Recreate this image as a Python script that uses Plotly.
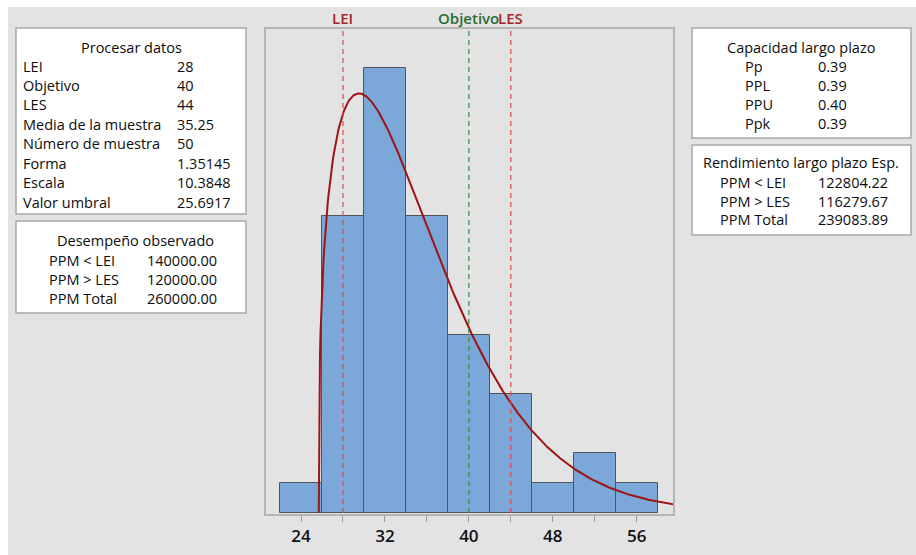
import numpy as np
import plotly.graph_objects as go

# Histogram bins (width 4) and observed counts
bin_edges = [22, 26, 30, 34, 38, 42, 46, 50, 54, 58]
counts = [1, 10, 15, 10, 6, 4, 1, 2, 1]

# Specification limits
lei, objetivo, les = 28, 40, 44

# Fitted 3-parameter Weibull
n_muestra = 50
forma, escala, umbral = 1.35145, 10.3848, 25.6917

tick_vals = [24, 32, 40, 48, 56]

proc_labels = ["LEI", "Objetivo", "LES", "Media de la muestra", "Número de muestra",
               "Forma", "Escala", "Valor umbral"]
proc_values = ["28", "40", "44", "35.25", "50", "1.35145", "10.3848", "25.6917"]

obs_labels = ["PPM < LEI", "PPM > LES", "PPM Total"]
obs_values = ["140000.00", "120000.00", "260000.00"]

cap_labels = ["Pp", "PPL", "PPU", "Ppk"]
cap_values = ["0.39", "0.39", "0.40", "0.39"]

esp_labels = ["PPM < LEI", "PPM > LES", "PPM Total"]
esp_values = ["122804.22", "116279.67", "239083.89"]

W, H = 916, 555
FONT = "Open Sans"
TXT = "#0d0d0d"
RED_TXT = "#a3262b"
GREEN_TXT = "#2d6b34"


def px(x):
    return x / W


def py(y):
    return 1 - y / H


centers = [(a + b) / 2 for a, b in zip(bin_edges[:-1], bin_edges[1:])]
widths = [b - a for a, b in zip(bin_edges[:-1], bin_edges[1:])]
bw = widths[0]

xs = np.linspace(umbral, 59.6, 600)
z = (xs - umbral) / escala
pdf = (forma / escala) * z ** (forma - 1) * np.exp(-z ** forma)
curve = pdf * n_muestra * bw

fig = go.Figure()
fig.add_trace(go.Bar(
    x=centers, y=counts, width=widths,
    marker=dict(color="#7ba7d9", line=dict(color="#50555c", width=1)),
    hoverinfo="skip",
))
fig.add_trace(go.Scatter(
    x=np.concatenate([[umbral], xs]), y=np.concatenate([[0], curve]),
    mode="lines", line=dict(color="#9e1414", width=2), hoverinfo="skip",
))

shapes = []
# grey canvas inside thin white strips at top and left
shapes.append(dict(type="rect", xref="paper", yref="paper", x0=px(8), x1=1, y0=0, y1=py(7),
                   fillcolor="#e3e3e3", line=dict(width=0), layer="below"))

# limit lines
for val, col in [(lei, "#e0484b"), (objetivo, "#2f8f3f"), (les, "#e0484b")]:
    shapes.append(dict(type="line", xref="x", yref="paper", x0=val, x1=val,
                       y0=py(513), y1=py(29), line=dict(color=col, width=1.2, dash="5px,4px"),
                       layer="above"))


def panel(x0, y0, x1, y1):
    shapes.append(dict(type="rect", xref="paper", yref="paper", x0=px(x0), x1=px(x1),
                       y0=py(y1), y1=py(y0), fillcolor="white",
                       line=dict(color="#a9a9a9", width=1.5), layer="below"))


panel(16, 28, 246, 214)
panel(16, 221, 246, 313)
panel(692, 28, 911, 138)
panel(692, 145, 911, 235)

ann = []


def text(s, x, y, anchor="left", size=14.5, color=TXT, weight=400):
    ann.append(dict(text=s, xref="paper", yref="paper",
                    x=px(x), y=py(y), xanchor=anchor, yanchor="middle", showarrow=False,
                    borderpad=0,
                    font=dict(family=FONT, size=size, color=color, weight=weight)))


text("Procesar datos", 131, 47, "center")
for i, (lab, val) in enumerate(zip(proc_labels, proc_values)):
    yy = 66 + i * 19.45
    text(lab, 22, yy)
    text(val, 176, yy)

text("Desempeño observado", 135, 240, "center")
for i, (lab, val) in enumerate(zip(obs_labels, obs_values)):
    yy = 260 + i * 19
    text(lab, 48, yy)
    text(val, 146, yy)

text("Capacidad largo plazo", 801, 47, "center")
for i, (lab, val) in enumerate(zip(cap_labels, cap_values)):
    yy = 66 + i * 19.2
    text(lab, 744, yy)
    text(val, 817, yy)

text("Rendimiento largo plazo Esp.", 801, 162, "center")
for i, (lab, val) in enumerate(zip(esp_labels, esp_values)):
    yy = 182 + i * 19
    text(lab, 719, yy)
    text(val, 817, yy)

# limit labels above the plot
x_lo, x_hi = 20.66, 59.46


def xpix(v):
    return 266 + (v - x_lo) / (x_hi - x_lo) * (673 - 266)


for lab, val, col in [("LEI", lei, RED_TXT), ("Objetivo", objetivo, GREEN_TXT), ("LES", les, RED_TXT)]:
    text(lab, xpix(val), 18, "center", size=15, color=col, weight=600)

fig.update_layout(
    width=W, height=H,
    margin=dict(l=0, r=0, t=0, b=0),
    paper_bgcolor="white",
    plot_bgcolor="white",
    showlegend=False,
    bargap=0,
    shapes=shapes,
    annotations=ann,
    xaxis=dict(
        domain=[px(266), px(673)], range=[x_lo, x_hi],
        tickmode="array", tickvals=tick_vals, ticktext=[str(v) for v in tick_vals],
        ticks="outside", ticklen=6, tickcolor="#9a9a9a", tickwidth=1,
        minor=dict(tickmode="array", tickvals=[28, 36, 44, 52], ticks="outside",
                   ticklen=6, tickcolor="#9a9a9a"),
        showgrid=False, zeroline=False,
        showline=True, mirror=True, linecolor="#b5b5b5", linewidth=1.5,
        tickfont=dict(family=FONT, size=17, color="#111111", weight=600),
        fixedrange=True,
    ),
    yaxis=dict(
        domain=[py(514), py(29)], range=[-0.04, 16.31],
        showticklabels=False, ticks="", showgrid=False, zeroline=False,
        showline=True, mirror=True, linecolor="#b5b5b5", linewidth=1.5,
        fixedrange=True,
    ),
)

fig.write_html("out.html")
